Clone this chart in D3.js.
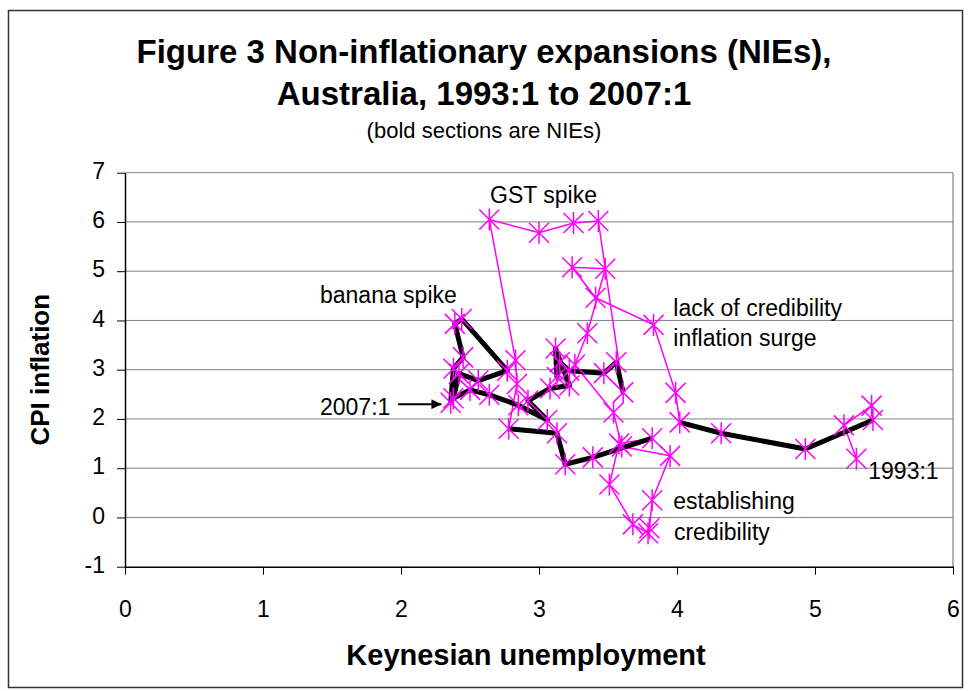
<!DOCTYPE html>
<html>
<head>
<meta charset="utf-8">
<script src="https://cdn.jsdelivr.net/npm/d3@7"></script>
<style>
  body { margin: 0; background: #fff; }
  svg { display: block; font-family: "Liberation Sans", Arial, sans-serif; }
</style>
</head>
<body>
<svg id="chart" width="968" height="691"></svg>
<script>
// quarterly path, 1993:1 to 2007:1 (57 quarters)
var unemployment = [
  5.30, 5.21, 5.41, 5.42,   4.93, 4.32, 4.02, 3.99,   // 1993, 1994
  3.83, 3.41, 3.24, 3.48,   3.35, 3.26, 3.54, 3.60,   // 1995, 1996
  3.95, 3.82, 3.80, 3.79,   3.68, 3.51, 3.58, 3.82,   // 1997, 1998
  3.39, 3.19, 3.13, 2.78,   2.84, 2.83, 2.64, 3.00,   // 1999, 2000
  3.25, 3.43, 3.61, 3.56,   3.47, 3.22, 3.15, 3.13,   // 2001, 2002
  3.12, 3.22, 3.08, 2.92,   3.06, 2.85, 2.64, 2.50,   // 2003, 2004
  2.38, 2.42, 2.56, 2.77,   2.44, 2.39, 2.45, 2.38,   // 2005, 2006
  2.36                                                // 2007:1
];
var inflation = [
  1.19, 1.87, 2.27, 1.98,   1.39, 1.71, 1.93, 2.53,
  3.91, 4.46, 5.08, 5.05,   3.74, 3.10, 2.13, 1.44,
  1.25, 0.35, -0.22, -0.32, -0.14, 0.67, 1.50, 1.61,
  1.22, 1.08, 1.71, 1.80,   2.71, 3.19, 6.05, 5.78,
  5.98, 6.02, 2.54, 3.15,   2.93, 2.98, 3.15, 2.85,
  3.43, 2.68, 2.62, 2.37,   1.98, 2.28, 2.49, 2.59,
  2.42, 2.92, 2.78, 2.98,   4.03, 3.93, 3.25, 3.02,
  2.33
];
// first and last quarter index of each bold NIE section
var nieStart = [3, 23, 34];
var nieEnd = [6, 27, 56];

var xTicks = [0, 1, 2, 3, 4, 5, 6];
var yTicks = [-1, 0, 1, 2, 3, 4, 5, 6, 7];

var titleLines = ["Figure 3 Non-inflationary expansions (NIEs),", "Australia, 1993:1 to 2007:1"];
var subtitle = "(bold sections are NIEs)";

// text notes, anchored in data units
var noteText = ["GST spike", "banana spike", "lack of credibility", "inflation surge",
                "establishing", "credibility", "1993:1", "2007:1"];
var noteX = [2.645, 1.413, 3.973, 3.973, 3.973, 3.978, 5.386, 1.413];
var noteY = [6.38, 4.345, 4.096, 3.486, 0.17, -0.459, 0.78, 2.085];

var svg = d3.select("#chart");
var W = +svg.attr("width"), H = +svg.attr("height");

var x = d3.scaleLinear().domain([0, 6]).range([125, 953]);
var y = d3.scaleLinear().domain([-1, 7]).range([566.7, 172.7]);

// chart area border
svg.append("rect")
    .attr("x", 8.5).attr("y", 10.5)
    .attr("width", W - 14).attr("height", H - 14)
    .attr("fill", "#fff")
    .attr("stroke", "#333")
    .attr("stroke-width", 1.5);

// titles
svg.append("g").selectAll("text")
    .data(titleLines)
  .enter().append("text")
    .attr("x", 484)
    .attr("y", function(d, i) { return 63 + i * 42; })
    .attr("text-anchor", "middle")
    .attr("font-size", "33px")
    .attr("font-weight", "bold")
    .text(function(d) { return d; });

svg.append("text")
    .attr("x", 484).attr("y", 138)
    .attr("text-anchor", "middle")
    .attr("font-size", "22px")
    .text(subtitle);

// gridlines + plot frame
svg.append("g").selectAll("line")
    .data(yTicks.slice(1))
  .enter().append("line")
    .attr("x1", x(0)).attr("x2", x(6))
    .attr("y1", function(d) { return y(d); })
    .attr("y2", function(d) { return y(d); })
    .attr("stroke", "#808080")
    .attr("stroke-width", 1);

svg.append("line")
    .attr("x1", x(6)).attr("x2", x(6))
    .attr("y1", y(7)).attr("y2", y(-1))
    .attr("stroke", "#808080")
    .attr("stroke-width", 1.2);

// axes (plain hyphen for the minus sign, as in the original)
var plain = function(d) { return String(d); };

var yAxis = svg.append("g")
    .attr("transform", "translate(" + x(0) + ",0)")
    .call(d3.axisLeft(y).tickValues(yTicks).tickFormat(plain)
      .tickSize(8).tickSizeOuter(0).tickPadding(12));

var xAxis = svg.append("g")
    .attr("transform", "translate(0," + y(-1) + ")")
    .call(d3.axisBottom(x).tickValues(xTicks).tickFormat(plain)
      .tickSize(8).tickSizeOuter(0).tickPadding(26));

[xAxis, yAxis].forEach(function(a) {
  a.select(".domain").attr("stroke", "#000").attr("stroke-width", 1.5);
  a.selectAll(".tick line").attr("stroke", "#000");
  a.selectAll(".tick text")
      .attr("fill", "#000")
      .attr("font-size", "23px")
      .attr("font-family", "'Liberation Sans', Arial, sans-serif");
});
yAxis.selectAll(".tick text").attr("dy", "0.25em");

// axis titles
svg.append("text")
    .attr("x", 526).attr("y", 665)
    .attr("text-anchor", "middle")
    .attr("font-size", "29px")
    .attr("font-weight", "bold")
    .text("Keynesian unemployment");

svg.append("text")
    .attr("transform", "translate(49," + (y(-1) + y(7)) / 2 + ") rotate(-90)")
    .attr("text-anchor", "middle")
    .attr("font-size", "26px")
    .attr("font-weight", "bold")
    .text("CPI inflation");

// the series
var points = unemployment.map(function(u, i) { return [u, inflation[i]]; });

var line = d3.line()
    .x(function(d) { return x(d[0]); })
    .y(function(d) { return y(d[1]); });

svg.append("path")
    .datum(points)
    .attr("fill", "none")
    .attr("stroke", "#ff00ff")
    .attr("stroke-width", 1.5)
    .attr("d", line);

svg.append("g").selectAll("path")
    .data(nieStart.map(function(s, k) { return points.slice(s, nieEnd[k] + 1); }))
  .enter().append("path")
    .attr("fill", "none")
    .attr("stroke", "#000")
    .attr("stroke-width", 5)
    .attr("stroke-linejoin", "round")
    .attr("d", line);

// asterisk markers
var star = "M-10,-10L10,10M-10,10L10,-10M0,-11L0,11";
svg.append("g").selectAll("path")
    .data(points)
  .enter().append("path")
    .attr("transform", function(d) { return "translate(" + x(d[0]) + "," + y(d[1]) + ")"; })
    .attr("d", star)
    .attr("fill", "none")
    .attr("stroke", "#ff00ff")
    .attr("stroke-width", 1.5);

// notes
svg.append("g").selectAll("text")
    .data(noteText)
  .enter().append("text")
    .attr("x", function(d, i) { return x(noteX[i]); })
    .attr("y", function(d, i) { return y(noteY[i]); })
    .attr("font-size", "23px")
    .attr("fill", "#000")
    .text(function(d) { return d; });

// arrow to the last quarter
svg.append("defs").append("marker")
    .attr("id", "arrowhead")
    .attr("viewBox", "0 0 10 10")
    .attr("refX", 10).attr("refY", 5)
    .attr("markerWidth", 5).attr("markerHeight", 5)
    .attr("orient", "auto")
  .append("path")
    .attr("d", "M0,0L10,5L0,10z")
    .attr("fill", "#000");

svg.append("line")
    .attr("x1", x(1.979)).attr("x2", x(2.293))
    .attr("y1", y(2.30)).attr("y2", y(2.30))
    .attr("stroke", "#000")
    .attr("stroke-width", 2)
    .attr("marker-end", "url(#arrowhead)");
</script>
</body>
</html>
